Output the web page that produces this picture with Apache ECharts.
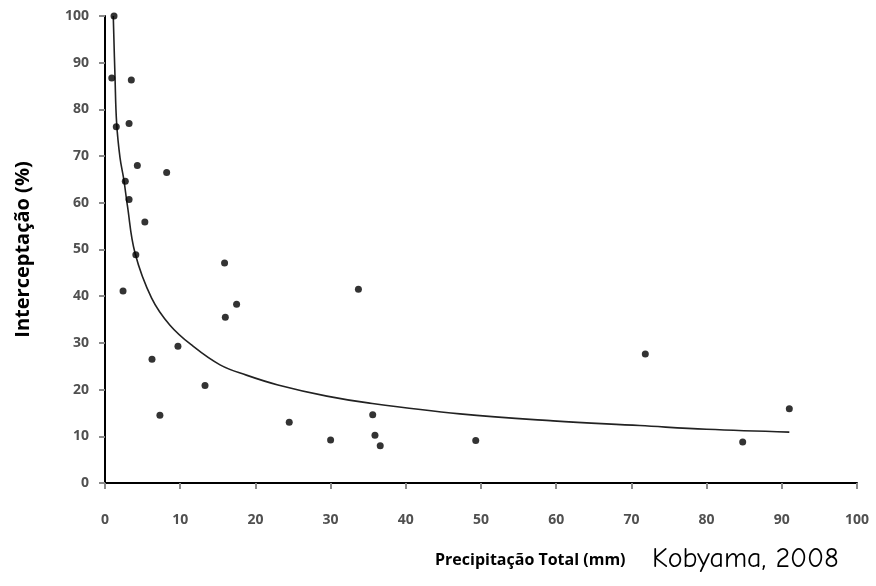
<!DOCTYPE html>
<html>
<head>
<meta charset="utf-8">
<script src="https://cdn.jsdelivr.net/npm/echarts@6/dist/echarts.min.js"></script>
<style>
  html, body { margin: 0; padding: 0; background: #fff; }
  #chart { width: 876px; height: 586px; }
</style>
</head>
<body>
<div id="chart"></div>
<script>
// Observed points (precipitation mm, interception %)
var precip = [1.2, 0.9, 3.5, 1.5, 3.2, 4.3, 8.2, 2.7, 3.2, 5.3, 4.1, 2.4, 15.9, 17.5, 16.0,
              9.7, 6.25, 13.3, 7.3, 24.5, 33.7, 30.0, 35.6, 35.9, 36.6, 49.3, 71.85, 84.8, 91.0];
var intercep = [100, 86.7, 86.3, 76.3, 77.0, 68.0, 66.5, 64.6, 60.7, 55.9, 48.9, 41.1, 47.1, 38.3, 35.5,
                29.3, 26.5, 20.9, 14.5, 13.0, 41.5, 9.2, 14.6, 10.2, 8.0, 9.1, 27.6, 8.8, 15.9];

// Trend curve
var trendX = [1.1, 1.33, 1.55, 2.0, 2.5, 2.97, 4.0, 6.2, 8.64, 11.7, 15.3, 18.8, 23.0, 29.5, 35.2, 47.2, 59.6, 71.1, 80, 91];
var trendY = [100, 87, 77, 69.6, 65, 59.5, 49.2, 39.6, 33.8, 29.3, 25.3, 23.1, 21.0, 18.6, 17.1, 14.8, 13.3, 12.3, 11.5, 10.9];

var xTitle = 'Precipitação Total (mm)';
var yTitle = 'Interceptação (%)';
var source = 'Kobyama, 2008';

function zip(a, b) {
    var out = [];
    for (var i = 0; i < a.length; i++) out.push([a[i], b[i]]);
    return out;
}

function extend(a, b) {
    var o = {};
    for (var k in a) o[k] = a[k];
    for (var k2 in b) o[k2] = b[k2];
    return o;
}

var chart = echarts.init(document.getElementById('chart'));
var labelStyle = { color: '#505050', fontFamily: 'Open Sans, sans-serif', fontSize: 14, fontWeight: 'bold' };
var tickStyle = { show: true, length: 6, lineStyle: { color: '#8a8a8a', width: 2 } };

chart.setOption({
    animation: false,
    grid: { left: 105, right: 19, top: 16, bottom: 103 },
    xAxis: {
        type: 'value', min: 0, max: 100, interval: 10,
        axisLine: { show: true, lineStyle: { color: '#000', width: 2 } },
        axisTick: tickStyle,
        axisLabel: extend(labelStyle, { margin: 30 }),
        splitLine: { show: false }
    },
    yAxis: {
        type: 'value', min: 0, max: 100, interval: 10,
        name: yTitle, nameLocation: 'middle', nameGap: 72, nameRotate: 90,
        nameTextStyle: { color: '#000', fontFamily: 'Open Sans, sans-serif', fontSize: 20, fontWeight: 'bold' },
        axisLine: { show: true, lineStyle: { color: '#000', width: 2 } },
        axisTick: tickStyle,
        axisLabel: extend(labelStyle, { margin: 16 }),
        splitLine: { show: false }
    },
    graphic: [
        { type: 'text', left: 435, top: 552,
          style: { text: xTitle, fill: '#000', font: 'bold 16px "Open Sans", sans-serif' } },
        { type: 'text', left: 652, top: 545,
          style: { text: source, fill: '#000', font: '28px "Comic Sans MS", "Comic Neue", cursive, "DejaVu Sans"' } }
    ],
    series: [
        {
            type: 'line', data: zip(trendX, trendY), smooth: 0.4, showSymbol: false,
            lineStyle: { color: '#222', width: 1.6 }, z: 2
        },
        {
            type: 'scatter', data: zip(precip, intercep), symbol: 'circle', symbolSize: 7,
            itemStyle: { color: '#000' }, z: 3
        }
    ]
});
</script>
</body>
</html>
